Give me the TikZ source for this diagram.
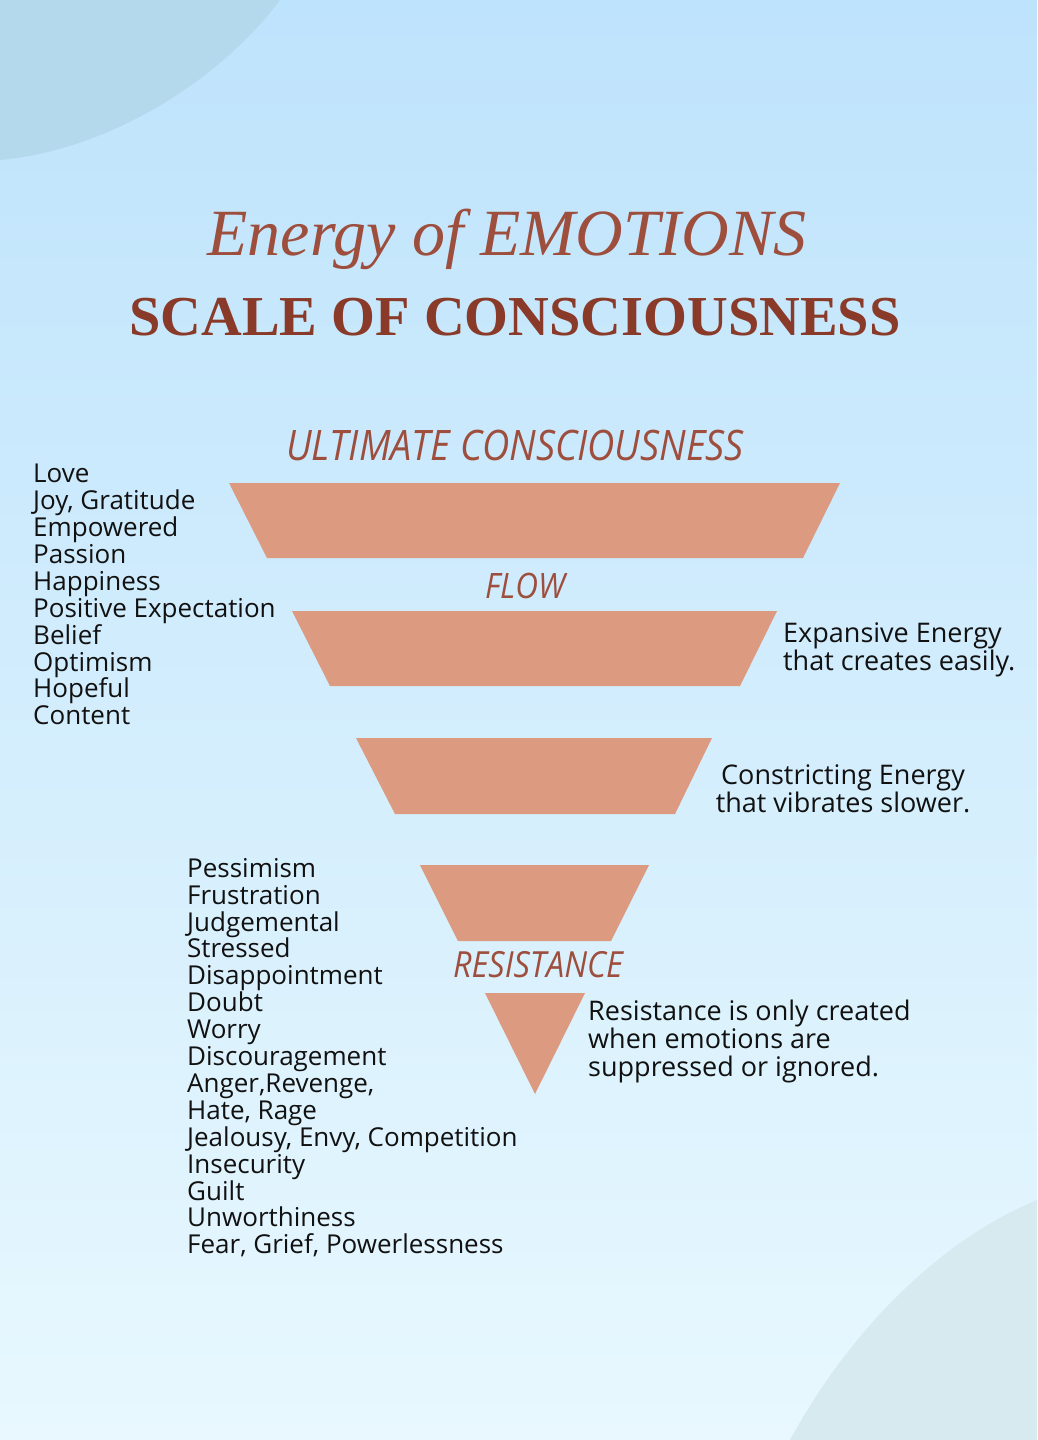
\documentclass[tikz,border=0pt]{standalone}
\usepackage{fontspec}
\setmainfont{Open Sans}
\newfontfamily\titlefont{Liberation Serif}
\newfontfamily\condfont[FakeStretch=0.9]{Open Sans}
\usetikzlibrary{positioning}
\definecolor{SkyTop}{RGB}{190,227,252}
\definecolor{SkyBottom}{RGB}{232,248,254}
\definecolor{BlobTop}{RGB}{181,217,236}
\definecolor{BlobBottom}{RGB}{214,234,240}
\definecolor{FunnelPeach}{RGB}{220,154,128}
\definecolor{TitleRust}{RGB}{158,78,60}
\definecolor{DeepRust}{RGB}{138,58,40}
\definecolor{InkBlack}{RGB}{17,17,17}

\begin{document}
\begin{tikzpicture}[
    x=1pt, y=-1pt,
    funnel/.style={fill=FunnelPeach},
    level/.style={text=TitleRust, inner sep=0pt, anchor=base, font=\condfont\itshape\fontsize{42}{42}\selectfont},
    wordlist/.style={text=InkBlack, inner sep=0pt, anchor=north west, align=left, font=\fontsize{26}{26.9}\selectfont},
    note/.style={text=InkBlack, inner sep=0pt, font=\fontsize{27}{28}\selectfont}
]
% background
\shade[top color=SkyTop, bottom color=SkyBottom] (0,0) rectangle (1037,1440);
\fill[BlobTop] (0,0) -- (280,0) .. controls (220,80) and (110,150) .. (0,160) -- cycle;
\fill[BlobBottom] (1037,1440) -- (790,1440) .. controls (850,1330) and (940,1240) .. (1037,1200) -- cycle;
\useasboundingbox (0,0) rectangle (1037,1440);

% titles
\node[text=TitleRust, inner sep=0pt, anchor=base, font=\titlefont\itshape\fontsize{66}{66}\selectfont] (title) at (507,255) {Energy of EMOTIONS};
\node[text=DeepRust, inner sep=0pt, anchor=base, font=\titlefont\bfseries\fontsize{56.4}{58}\selectfont] (subtitle) at (515,335) {SCALE OF CONSCIOUSNESS};

% funnel
\fill[funnel] (229,483) -- (840,483) -- (803,558) -- (267,558) -- cycle;
\fill[funnel] (292,611) -- (777,611) -- (740,686) -- (330,686) -- cycle;
\fill[funnel] (356,738) -- (712,738) -- (675,814) -- (395,814) -- cycle;
\fill[funnel] (420,865) -- (649,865) -- (611,941) -- (458,941) -- cycle;
\fill[funnel] (485,993) -- (585,993) -- (535,1094) -- cycle;

% level labels
\node[level] (ultimate) at (515,460) {ULTIMATE CONSCIOUSNESS};
\node[level, font=\condfont\itshape\fontsize{35}{35}\selectfont] (flow) at (525,598) {FLOW};
\node[level, font=\condfont\itshape\fontsize{36}{36}\selectfont] (resistance) at (538,977) {RESISTANCE};

% emotion lists
\node[wordlist] (highlist) at (33,464) {Love\\Joy, Gratitude\\Empowered\\Passion\\Happiness\\Positive Expectation\\Belief\\Optimism\\Hopeful\\Content};
\node[wordlist] (lowlist) at (187,858) {Pessimism\\Frustration\\Judgemental\\Stressed\\Disappointment\\Doubt\\Worry\\Discouragement\\Anger,Revenge,\\Hate, Rage\\Jealousy, Envy, Competition\\Insecurity\\Guilt\\Unworthiness\\Fear, Grief, Powerlessness};

% notes
\node[note, anchor=north west, align=left] (expansive) at (783,622) {Expansive Energy\\that creates easily.};
\node[note, anchor=north, align=center] (constricting) at (843,764) {Constricting Energy\\that vibrates slower.};
\node[note, anchor=north west, align=left] (resnote) at (588,1000) {Resistance is only created\\when emotions are\\suppressed or ignored.};
\end{tikzpicture}
\end{document}
